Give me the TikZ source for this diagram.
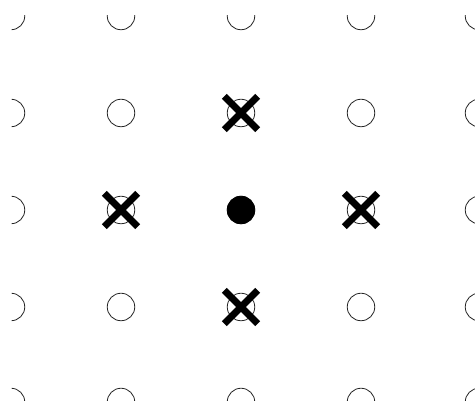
\documentclass[tikz,border=0pt]{standalone}
\usepackage{tikz}
\usetikzlibrary{
    shapes.misc,
    positioning
}

\begin{document}
\begin{tikzpicture}[
            x=1pt, y=1pt,
            site/.style={circle, draw, inner sep=0pt, minimum size=27.5pt, line width=0.8pt, black!85},
            occupied/.style={site, fill=black, draw=black},
            vacancy/.style={cross out, draw=black, inner sep=0pt, minimum size=26.5pt, line width=6.8pt}
        ]
            \useasboundingbox (0,0) rectangle (475,401);
            \clip (11.5,0) rectangle (475,385.5);

            % ====== Lattice sites ======
            \foreach \x [count=\i] in {11,121,241,361,479}
                \foreach \y [count=\j] in {385,288,191,94,-1}
                    \node[site] (s-\i-\j) at (\x,\y) {};

            % ====== Central atom ======
            \node[occupied] (centre) at (s-3-3) {};

            % ====== Removed neighbours ======
            \foreach \c in {3-2,2-3,4-3,3-4}
                \node[vacancy] (v-\c) at (s-\c) {};
        \end{tikzpicture}
\end{document}
